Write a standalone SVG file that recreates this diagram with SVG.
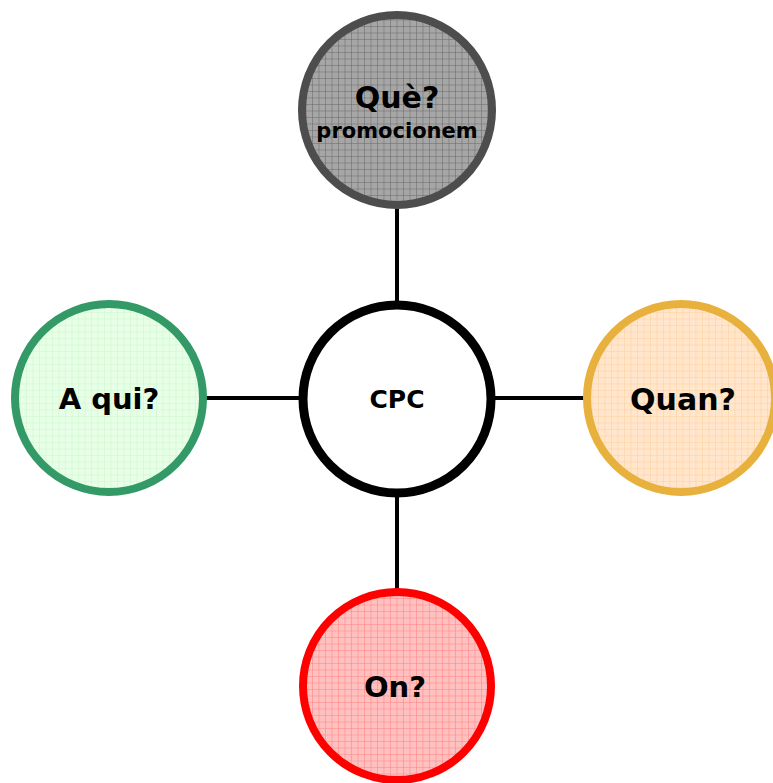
<svg xmlns="http://www.w3.org/2000/svg" width="773" height="783" viewBox="0 0 773 783">
<style>
.lbl{font-family:"DejaVu Sans","Liberation Sans",Arial,sans-serif;font-weight:bold;fill:#000;text-anchor:middle}
.big{font-size:29px}
.conn{stroke:#000;stroke-width:4;fill:none}
</style>
<defs>
<pattern id="pGray" patternUnits="userSpaceOnUse" width="6.5" height="6.5"><rect width="6.5" height="6.5" fill="#a6a6a6"/><path d="M0 0H6.5M0 0V6.5" stroke="#666" stroke-width="1"/></pattern>
<pattern id="pOrange" patternUnits="userSpaceOnUse" width="6.5" height="6.5"><rect width="6.5" height="6.5" fill="#ffe6cc"/><path d="M0 0H6.5M0 0V6.5" stroke="#ffcc99" stroke-width="1"/></pattern>
<pattern id="pGreen" patternUnits="userSpaceOnUse" width="6.5" height="6.5"><rect width="6.5" height="6.5" fill="#e6ffe6"/><path d="M0 0H6.5M0 0V6.5" stroke="#ccf5cc" stroke-width="1"/></pattern>
<pattern id="pRed" patternUnits="userSpaceOnUse" width="6.5" height="6.5"><rect width="6.5" height="6.5" fill="#ffc0c0"/><path d="M0 0H6.5M0 0V6.5" stroke="#ff8080" stroke-width="1"/></pattern>
</defs>
<rect width="773" height="783" fill="#fff"/>
<g id="connectors">
<line class="conn" x1="397" y1="206" x2="397" y2="303"/>
<line class="conn" x1="205" y1="398" x2="301" y2="398"/>
<line class="conn" x1="493" y1="398" x2="586" y2="398"/>
<line class="conn" x1="397" y1="495" x2="397" y2="590"/>
</g>
<g id="node-que">
<circle cx="397" cy="110" r="95" fill="url(#pGray)" stroke="#4d4d4d" stroke-width="8"/>
<text class="lbl" x="397" y="108" font-size="30">Què?</text>
<text class="lbl" x="397" y="138" font-size="21">promocionem</text>
</g>
<g id="node-cpc">
<circle cx="397" cy="399" r="94" fill="#fff" stroke="#000" stroke-width="9"/>
<text class="lbl" x="397" y="408" font-size="25">CPC</text>
</g>
<g id="node-quan">
<circle cx="681" cy="398" r="94" fill="url(#pOrange)" stroke="#e8b03c" stroke-width="8"/>
<text class="lbl" x="683" y="410" font-size="30">Quan?</text>
</g>
<g id="node-aqui">
<circle cx="109" cy="398" r="94" fill="url(#pGreen)" stroke="#339966" stroke-width="8"/>
<text class="lbl big" x="109" y="409">A qui?</text>
</g>
<g id="node-on">
<circle cx="397" cy="686" r="94" fill="url(#pRed)" stroke="#ff0000" stroke-width="8"/>
<text class="lbl big" x="395" y="697">On?</text>
</g>
</svg>
